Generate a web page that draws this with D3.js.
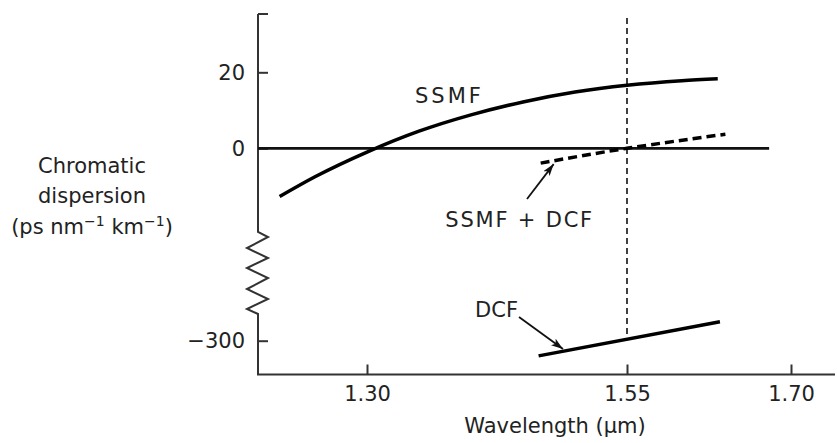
<!DOCTYPE html>
<html>
<head>
<meta charset="utf-8">
<script src="https://cdn.jsdelivr.net/npm/d3@7"></script>
<style>
  body { margin: 0; background: #fff; }
  text { font-family: "DejaVu Sans", sans-serif; fill: #222; }
</style>
</head>
<body>
<svg id="chart" width="837" height="443"></svg>
<script>
// values
const wavelengthTicks = [1.30, 1.55, 1.70];
const upperTicks = [0, 20];
const lowerTicks = [-300];

const ssmfWl = [1.216, 1.25, 1.30, 1.35, 1.40, 1.45, 1.50, 1.55, 1.60, 1.633];
const ssmfD  = [-12.7, -7.5, -1.0, 4.5, 8.8, 12.2, 14.8, 16.6, 17.8, 18.3];

const compWl = [1.467, 1.55, 1.64];
const compD  = [-3.9, 0, 3.7];

const dcfWl = [1.465, 1.635];
const dcfD  = [-304.0, -295.0];

const svg = d3.select("#chart");

const axisX = 258, axisY = 374.5, axisTop = 14, axisRight = 835;

// schematic wavelength axis (not quite uniform in the original)
const x = d3.scaleLinear().domain([1.30, 1.55, 1.70]).range([367, 627, 791]);
const yUp = d3.scaleLinear().domain([0, 20]).range([148.3, 72.3]);
const yLo = d3.scaleLinear().domain([-300, -290]).range([340.7, 302.7]);
const y = v => v > -100 ? yUp(v) : yLo(v);

svg.append("defs").append("marker")
  .attr("id", "head")
  .attr("viewBox", "0 0 12 8")
  .attr("refX", 12).attr("refY", 4)
  .attr("markerWidth", 12).attr("markerHeight", 8)
  .attr("markerUnits", "userSpaceOnUse")
  .attr("orient", "auto")
  .append("path")
  .attr("d", "M0,0 L12,4 L0,8 L3,4 Z")
  .attr("fill", "#111");

// y axis with break
const zig = [[axisX, axisTop], [axisX, 232], [268, 237], [247, 248], [268, 258], [247, 268],
             [268, 278], [247, 289], [268, 299], [247, 309], [axisX, 314], [axisX, axisY]];
svg.append("path")
  .attr("d", d3.line()(zig))
  .attr("fill", "none").attr("stroke", "#333").attr("stroke-width", 2);
svg.append("line")
  .attr("x1", axisX).attr("x2", axisX + 10).attr("y1", axisTop).attr("y2", axisTop)
  .attr("stroke", "#333").attr("stroke-width", 2);

// x axis line
svg.append("line")
  .attr("x1", axisX - 1).attr("x2", axisRight).attr("y1", axisY).attr("y2", axisY)
  .attr("stroke", "#333").attr("stroke-width", 2);

function styleAxis(g) {
  g.select(".domain").remove();
  g.selectAll("line").attr("stroke", "#333").attr("stroke-width", 2);
  g.selectAll("text").attr("font-size", 21).attr("font-family", "DejaVu Sans").attr("fill", "#222");
}

svg.append("g")
  .attr("transform", `translate(0,${axisY})`)
  .call(d3.axisBottom(x).tickValues(wavelengthTicks).tickSizeInner(-10).tickSizeOuter(0)
    .tickPadding(12).tickFormat(d3.format(".2f")))
  .call(styleAxis);

svg.append("g")
  .attr("transform", `translate(${axisX},0)`)
  .call(d3.axisLeft(yUp).tickValues(upperTicks).tickSizeInner(-10).tickSizeOuter(0).tickPadding(13))
  .call(styleAxis);

svg.append("g")
  .attr("transform", `translate(${axisX},0)`)
  .call(d3.axisLeft(yLo).tickValues(lowerTicks).tickSizeInner(-10).tickSizeOuter(0).tickPadding(13)
    .tickFormat(d => "\u2212" + Math.abs(d)))
  .call(styleAxis);

// zero line
svg.append("line")
  .attr("x1", axisX).attr("x2", x(1.68)).attr("y1", y(0)).attr("y2", y(0))
  .attr("stroke", "#111").attr("stroke-width", 2.8);

// dashed marker at 1.55 um
const dcfAt155 = d3.scaleLinear().domain(dcfWl).range(dcfD)(1.55);
svg.append("line")
  .attr("x1", x(1.55)).attr("x2", x(1.55))
  .attr("y1", axisTop + 4).attr("y2", y(dcfAt155))
  .attr("stroke", "#111").attr("stroke-width", 1.6).attr("stroke-dasharray", "6,4");

const line = d3.line().x(d => x(d[0])).y(d => y(d[1]));

svg.append("path")
  .attr("d", line.curve(d3.curveMonotoneX)(d3.zip(ssmfWl, ssmfD)))
  .attr("fill", "none").attr("stroke", "#000").attr("stroke-width", 3.5);

svg.append("path")
  .attr("d", line.curve(d3.curveNatural)(d3.zip(compWl, compD)))
  .attr("fill", "none").attr("stroke", "#000").attr("stroke-width", 3.5)
  .attr("stroke-dasharray", "9,5");

svg.append("path")
  .attr("d", line.curve(d3.curveLinear)(d3.zip(dcfWl, dcfD)))
  .attr("fill", "none").attr("stroke", "#000").attr("stroke-width", 3.5);

// annotations
svg.append("text").attr("x", 415).attr("y", 103).attr("font-size", 21)
  .attr("letter-spacing", 3).text("SSMF");

svg.append("text").attr("x", 594).attr("y", 227).attr("font-size", 21)
  .attr("text-anchor", "end").attr("letter-spacing", 1.8).text("SSMF + DCF");
svg.append("line")
  .attr("x1", 527).attr("y1", 199).attr("x2", x(1.467) + 13).attr("y2", y(-3.9) + 1)
  .attr("stroke", "#111").attr("stroke-width", 1.8).attr("marker-end", "url(#head)");

svg.append("text").attr("x", 518).attr("y", 317).attr("font-size", 21)
  .attr("text-anchor", "end").text("DCF");
svg.append("line")
  .attr("x1", 519).attr("y1", 317).attr("x2", 563).attr("y2", 349)
  .attr("stroke", "#111").attr("stroke-width", 1.8).attr("marker-end", "url(#head)");

// axis titles
svg.append("text").attr("x", 555).attr("y", 433)
  .attr("font-size", 21).attr("text-anchor", "middle").text("Wavelength (\u03bcm)");

const yt = svg.append("text").attr("font-size", 21).attr("text-anchor", "middle");
yt.append("tspan").attr("x", 92).attr("y", 173).text("Chromatic");
yt.append("tspan").attr("x", 92).attr("y", 203).text("dispersion");

const unit = svg.append("text").attr("font-size", 21).attr("x", 92).attr("y", 234)
  .attr("text-anchor", "middle");
unit.append("tspan").text("(ps nm");
unit.append("tspan").attr("font-size", 14).attr("dy", -8).text("\u22121");
unit.append("tspan").attr("dy", 8).text(" km");
unit.append("tspan").attr("font-size", 14).attr("dy", -8).text("\u22121");
unit.append("tspan").attr("dy", 8).text(")");
</script>
</body>
</html>
